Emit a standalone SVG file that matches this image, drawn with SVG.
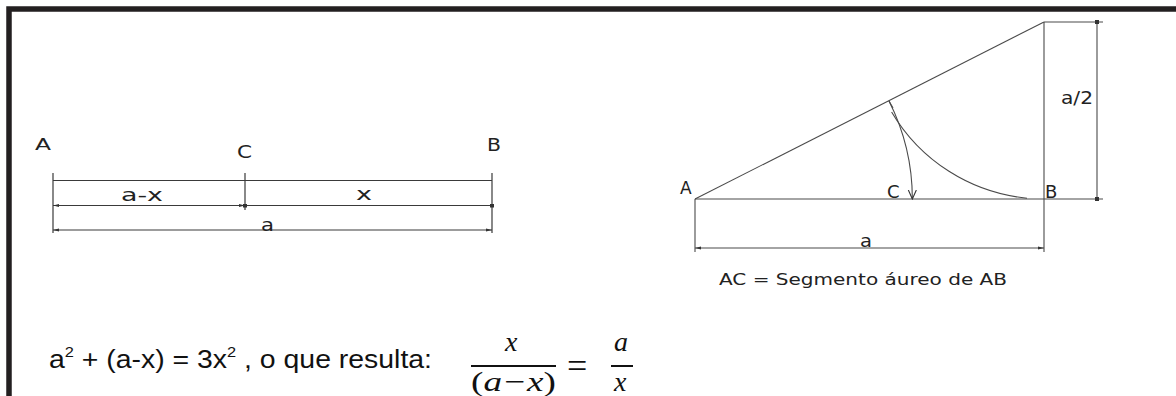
<svg xmlns="http://www.w3.org/2000/svg" width="1176" height="396" viewBox="0 0 1176 396">
<style>
.ln{stroke:#3a3a3a;stroke-width:1.2;fill:none}
.rl{stroke:#4a4a4a;stroke-width:1.1;fill:none}
.lbl{font-family:"DejaVu Sans",Verdana,sans-serif;fill:#222}
.eq{font-family:"Liberation Sans",Arial,sans-serif;fill:#111;font-size:26px}
.mth{font-family:"Liberation Serif","DejaVu Serif",serif;font-style:italic;fill:#111;font-size:28px}
</style>
<defs>
<marker id="arr" viewBox="0 0 6 4" refX="6" refY="2" markerWidth="6" markerHeight="4" markerUnits="userSpaceOnUse" orient="auto-start-reverse"><path d="M0,0.6 L6,2 L0,3.4 z" fill="#333"/></marker>
<marker id="dot" viewBox="0 0 4 4" refX="2" refY="2" markerWidth="4" markerHeight="4" markerUnits="userSpaceOnUse"><rect width="4" height="4" fill="#333"/></marker>
<marker id="open" viewBox="0 0 10 10" refX="9" refY="5" markerWidth="10" markerHeight="10" markerUnits="userSpaceOnUse" orient="auto"><path d="M0,1 L9,5 L0,9" fill="none" stroke="#333" stroke-width="1.1"/></marker>
</defs>
<rect width="1176" height="396" fill="#fff"/>
<path id="frame" d="M9,396 V9 H1176" fill="none" stroke="#231f20" stroke-width="5.5"/>

<g id="left-diagram">
<g id="connectors-left">
<line class="ln" x1="53" y1="173" x2="53" y2="233"/>
<line class="ln" x1="245" y1="173" x2="245" y2="210"/>
<line class="ln" x1="492" y1="173" x2="492" y2="233"/>
<line class="ln" x1="53" y1="180.5" x2="492" y2="180.5"/>
<line class="ln" x1="53" y1="205.5" x2="245" y2="205.5" marker-start="url(#arr)" marker-end="url(#arr)"/>
<line class="ln" x1="245" y1="205.5" x2="492" y2="205.5" marker-start="url(#dot)" marker-end="url(#dot)"/>
<line class="ln" x1="53" y1="230" x2="492" y2="230" marker-start="url(#arr)" marker-end="url(#arr)"/>
</g>
<g id="node-A1"><text class="lbl" x="35" y="150" font-size="16" textLength="16" lengthAdjust="spacingAndGlyphs">A</text></g>
<g id="node-C1"><text class="lbl" x="237" y="158" font-size="17" textLength="15" lengthAdjust="spacingAndGlyphs">C</text></g>
<g id="node-B1"><text class="lbl" x="487" y="151" font-size="17" textLength="14" lengthAdjust="spacingAndGlyphs">B</text></g>
<g id="lbl-ax"><text class="lbl" x="121" y="201" font-size="17" textLength="42" lengthAdjust="spacingAndGlyphs">a-x</text></g>
<g id="lbl-x"><text class="lbl" x="356" y="200" font-size="17" textLength="16" lengthAdjust="spacingAndGlyphs">x</text></g>
<g id="lbl-a1"><text class="lbl" x="261" y="231" font-size="17" textLength="13" lengthAdjust="spacingAndGlyphs">a</text></g>
</g>

<g id="right-diagram">
<g id="connectors-right">
<line class="rl" x1="695" y1="199" x2="1103" y2="199"/>
<line class="rl" x1="1044" y1="22" x2="1103" y2="22"/>
<line class="rl" x1="1044" y1="22" x2="1044" y2="252"/>
<line class="rl" x1="695" y1="199" x2="695" y2="252"/>
<line class="rl" x1="695" y1="199" x2="1044" y2="22"/>
<line class="rl" x1="1097" y1="22" x2="1097" y2="199" marker-start="url(#dot)" marker-end="url(#dot)"/>
<line class="rl" x1="695" y1="248" x2="1044" y2="248" marker-start="url(#arr)" marker-end="url(#arr)"/>
<path class="rl" d="M889,101 A217.35,217.35 0 0 1 912.35,199" marker-end="url(#open)"/>
<path class="rl" d="M1027,198.2 A177,177 0 0 1 891.6,112"/>
<line class="rl" x1="889" y1="101" x2="893" y2="108" stroke-width="1.6"/>
</g>
<g id="node-A2"><text class="lbl" x="680" y="194" font-size="17">A</text></g>
<g id="node-C2"><text class="lbl" x="887" y="198" font-size="18">C</text></g>
<g id="node-B2"><text class="lbl" x="1045" y="198" font-size="18">B</text></g>
<g id="lbl-a2half"><text class="lbl" x="1061" y="104" font-size="18" textLength="32" lengthAdjust="spacingAndGlyphs">a/2</text></g>
<g id="lbl-a2"><text class="lbl" x="860" y="247" font-size="18" textLength="12" lengthAdjust="spacingAndGlyphs">a</text></g>
<g id="caption"><text class="lbl" x="719" y="285" font-size="16" textLength="288" lengthAdjust="spacingAndGlyphs">AC = Segmento áureo de AB</text></g>
</g>

<g id="formula">
<text class="eq" x="49" y="368" textLength="383" lengthAdjust="spacingAndGlyphs">a<tspan font-size="15" dy="-11">2</tspan><tspan dy="11"> + (a-x) = 3x</tspan><tspan font-size="15" dy="-11">2</tspan><tspan dy="11"> , o que resulta:</tspan></text>
<text class="mth" x="505" y="351">x</text>
<line x1="471" y1="366" x2="556" y2="366" stroke="#111" stroke-width="2"/>
<text class="mth" x="471" y="391" textLength="85" lengthAdjust="spacingAndGlyphs"><tspan font-style="normal">(</tspan>a−x<tspan font-style="normal">)</tspan></text>
<text x="567" y="378" font-family="'Liberation Serif',serif" font-size="36" fill="#111">=</text>
<text class="mth" x="614" y="351">a</text>
<line x1="611" y1="366" x2="633" y2="366" stroke="#111" stroke-width="2"/>
<text class="mth" x="614" y="391">x</text>
</g>
</svg>
